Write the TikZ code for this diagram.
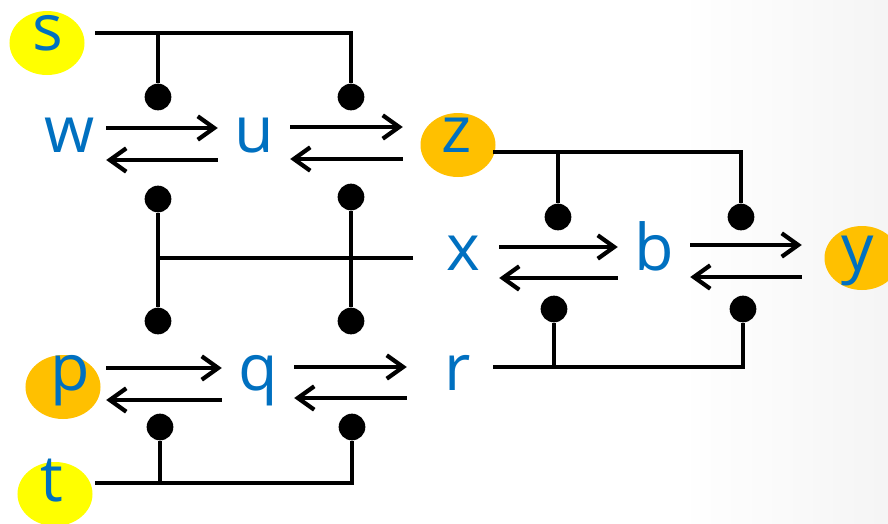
\documentclass[tikz,border=0pt]{standalone}
\usepackage{fontspec}
\setmainfont{Open Sans}
\usetikzlibrary{arrows.meta,shapes.geometric,calc}
\definecolor{spBlue}     {RGB}{0,  112, 192}
\definecolor{srcYellow}  {RGB}{255, 255,   0}
\definecolor{spotOrange} {RGB}{255, 192,   0}

\begin{document}
\begin{tikzpicture}[x=0.03cm,y=-0.03cm,
          spec/.style={anchor=base,inner sep=0pt,minimum width=2.16cm,
                       text=spBlue,font=\fontsize{55}{55}\selectfont},
          spot/.style={ellipse,inner sep=0pt,minimum width=2.25cm,minimum height=1.92cm},
          dot/.style={circle,fill=black,inner sep=0pt,minimum size=0.8cm},
          wire/.style={line width=3.6pt},
          fwd/.style={wire,-{Straight Barb[length=14pt,width=20pt]}},
        ]
        \useasboundingbox (0,0) rectangle (888,523);
        \fill[white] (0,0) rectangle (888,523);
        \shade[left color=white,right color=black!4] (680,0) rectangle (888,523);

        % coloured spots
        \node[spot,fill=srcYellow]  (s-spot) at (47,43)  {};
        \node[spot,fill=spotOrange] (z-spot) at (458,145){};
        \node[spot,fill=spotOrange] (y-spot) at (862,258){};
        \node[spot,fill=spotOrange] (p-spot) at (63,387) {};
        \node[spot,fill=srcYellow]  (t-spot) at (55,494) {};

        % species
        \node[spec](s) at (48,50) {s};
        \node[spec](w) at (70,152) {w};
        \node[spec](u) at (254,152){u};
        \node[spec](z) at (457,152){z};
        \node[spec](x) at (463,270){x};
        \node[spec](b) at (654,270){b};
        \node[spec](y) at (858,270){y};
        \node[spec](p) at (70,390) {p};
        \node[spec](q) at (258,390){q};
        \node[spec](r) at (458,390){r};
        \node[spec](t) at (52,501) {t};

        % reversible steps
        \draw[fwd] ($(w.base east)+(0,-24)$) -- ($(u.base west)+(0,-24)$);
        \draw[fwd] ($(u.base west)+(0,8)$)   -- ($(w.base east)+(0,8)$);
        \draw[fwd,shorten >=0.54cm] ($(u.base east)+(0,-25)$) -- ($(z.base west)+(0,-25)$);
        \draw[fwd,shorten <=0.54cm] ($(z.base west)+(0,7)$)   -- ($(u.base east)+(0,7)$);
        \draw[fwd] ($(x.base east)+(0,-23)$) -- ($(b.base west)+(0,-23)$);
        \draw[fwd] ($(b.base west)+(0,8)$)   -- ($(x.base east)+(0,8)$);
        \draw[fwd,shorten >=0.6cm] ($(b.base east)+(0,-25)$) -- ($(y.base west)+(0,-25)$);
        \draw[fwd,shorten <=0.6cm] ($(y.base west)+(0,7)$)   -- ($(b.base east)+(0,7)$);
        \draw[fwd] ($(p.base east)+(0,-22)$) -- ($(q.base west)+(0,-22)$);
        \draw[fwd] ($(q.base west)+(0,10)$)  -- ($(p.base east)+(0,10)$);
        \draw[fwd,shorten >=0.45cm] ($(q.base east)+(0,-23)$) -- ($(r.base west)+(0,-23)$);
        \draw[fwd,shorten <=0.45cm] ($(r.base west)+(0,8)$)   -- ($(q.base east)+(0,8)$);

        % effector dots
        \node[dot](wu-t) at (158,97) {};
        \node[dot](uz-t) at (351,97) {};
        \node[dot](wu-b) at (158,199){};
        \node[dot](uz-b) at (351,197){};
        \node[dot](pq-t) at (158,321){};
        \node[dot](qr-t) at (351,321){};
        \node[dot](pq-b) at (160,427){};
        \node[dot](qr-b) at (352,427){};
        \node[dot](xb-t) at (558,217){};
        \node[dot](by-t) at (741,217){};
        \node[dot](xb-b) at (554,309){};
        \node[dot](by-b) at (743,309){};

        % wires
        \coordinate (s-out) at (95,33);
        \coordinate (z-out) at (493,152);
        \coordinate (x-out) at (413,258);
        \coordinate (r-out) at (493,367);
        \coordinate (t-out) at (95,483);
        \draw[wire] (s-out) -| (uz-t) (s-out -| wu-t) -- (wu-t);
        \draw[wire] (z-out) -| (by-t) (z-out -| xb-t) -- (xb-t);
        \draw[wire] (wu-b) -- (pq-t) (uz-b) -- (qr-t);
        \draw[wire] (x-out) -- (x-out -| wu-b);
        \draw[wire] (r-out) -| (by-b) (r-out -| xb-b) -- (xb-b);
        \draw[wire] (t-out) -| (qr-b) (t-out -| pq-b) -- (pq-b);
      \end{tikzpicture}
\end{document}
